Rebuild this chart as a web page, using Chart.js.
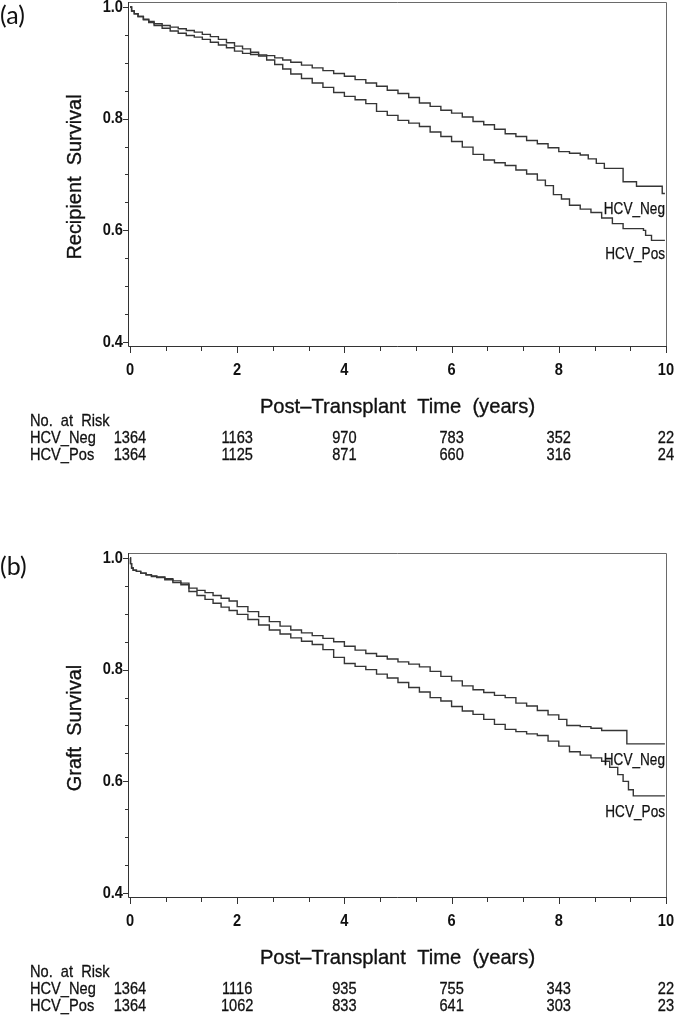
<!DOCTYPE html>
<html><head><meta charset="utf-8">
<script src="https://cdn.jsdelivr.net/npm/chart.js@4.4.0/dist/chart.umd.min.js"></script>
<style>
html,body{margin:0;padding:0;background:#fff;overflow:hidden;width:675px;height:1020px;}
.panel{position:absolute;left:0;width:675px;height:469px;}
#pa{top:0}#pb{top:551px}
</style></head><body>
<div class="panel" id="pa"><canvas id="ca" width="675" height="469"></canvas></div>
<div class="panel" id="pb"><canvas id="cb" width="675" height="469"></canvas></div>
<script>
const xTickLabels=[0,2,4,6,8,10];
const yTickLabels=[0.4,0.6,0.8,1.0];
const riskTimes=[0,2,4,6,8,10];
const riskA_Neg=[1364,1163,970,783,352,22];
const riskA_Pos=[1364,1125,871,660,316,24];
const riskB_Neg=[1364,1116,935,755,343,22];
const riskB_Pos=[1364,1062,833,641,303,23];

const timeA_Neg=[0,0.03,0.08,0.15,0.25,0.35,0.45,0.6,0.75,0.9,1.05,1.2,1.35,1.5,1.65,1.8,1.95,2.1,2.25,2.4,2.55,2.7,2.85,3.0,3.2,3.4,3.6,3.8,4.0,4.2,4.4,4.6,4.8,5.0,5.2,5.4,5.6,5.8,6.0,6.2,6.4,6.6,6.8,7.0,7.2,7.4,7.6,7.8,8.0,8.2,8.4,8.55,8.7,8.85,9.2,9.45,9.93,9.98];
const survA_Neg=[1.0,0.993,0.988,0.983,0.977,0.972,0.967,0.962,0.957,0.953,0.949,0.946,0.942,0.937,0.932,0.927,0.921,0.917,0.915,0.914,0.913,0.909,0.905,0.901,0.896,0.891,0.886,0.881,0.876,0.870,0.864,0.858,0.851,0.845,0.838,0.828,0.822,0.815,0.810,0.803,0.795,0.789,0.781,0.773,0.768,0.761,0.755,0.748,0.741,0.738,0.735,0.728,0.720,0.711,0.687,0.679,0.666,0.666];
const timeA_Pos=[0,0.03,0.08,0.15,0.25,0.35,0.45,0.6,0.75,0.9,1.05,1.2,1.35,1.5,1.65,1.8,1.95,2.1,2.25,2.4,2.55,2.7,2.85,3.0,3.2,3.4,3.6,3.8,4.0,4.2,4.4,4.6,4.8,5.0,5.2,5.4,5.6,5.8,6.0,6.2,6.4,6.6,6.8,7.0,7.2,7.4,7.6,7.75,7.9,8.05,8.2,8.4,8.6,8.8,9.0,9.2,9.58,9.62,9.73,9.98];
const survA_Pos=[1.0,0.993,0.988,0.983,0.978,0.974,0.970,0.967,0.964,0.961,0.958,0.955,0.951,0.947,0.942,0.936,0.930,0.925,0.919,0.912,0.905,0.897,0.889,0.880,0.872,0.864,0.856,0.847,0.840,0.834,0.827,0.813,0.806,0.797,0.792,0.786,0.776,0.768,0.759,0.749,0.736,0.726,0.721,0.716,0.708,0.701,0.690,0.680,0.664,0.656,0.645,0.638,0.632,0.622,0.612,0.603,0.600,0.591,0.582,0.582];

const timeB_Neg=[0,0.01,0.03,0.06,0.12,0.2,0.3,0.4,0.5,0.65,0.8,0.95,1.1,1.25,1.4,1.55,1.7,1.85,2.0,2.2,2.4,2.6,2.8,3.0,3.2,3.4,3.6,3.8,4.0,4.2,4.4,4.6,4.8,5.0,5.2,5.4,5.6,5.8,6.0,6.2,6.4,6.6,6.8,7.0,7.2,7.4,7.6,7.8,8.0,8.15,8.4,8.6,8.8,9.27,9.98];
const survB_Neg=[1.0,0.99,0.982,0.978,0.976,0.973,0.970,0.967,0.965,0.961,0.956,0.952,0.946,0.942,0.938,0.933,0.928,0.923,0.913,0.904,0.895,0.886,0.878,0.871,0.866,0.861,0.856,0.850,0.842,0.835,0.829,0.824,0.819,0.814,0.810,0.805,0.797,0.788,0.780,0.771,0.764,0.759,0.754,0.750,0.740,0.735,0.727,0.719,0.711,0.700,0.698,0.695,0.691,0.667,0.667];
const timeB_Pos=[0,0.01,0.03,0.06,0.12,0.2,0.3,0.4,0.5,0.65,0.8,0.95,1.1,1.25,1.4,1.55,1.7,1.85,2.0,2.2,2.4,2.6,2.8,3.0,3.2,3.4,3.6,3.8,4.0,4.2,4.4,4.6,4.8,5.0,5.2,5.4,5.6,5.8,6.0,6.2,6.4,6.6,6.8,7.0,7.2,7.4,7.6,7.8,8.0,8.2,8.4,8.6,8.8,8.95,9.1,9.2,9.3,9.39,9.98];
const survB_Pos=[1.0,0.99,0.982,0.978,0.976,0.973,0.970,0.968,0.966,0.963,0.959,0.955,0.940,0.933,0.926,0.919,0.912,0.906,0.899,0.890,0.880,0.871,0.864,0.857,0.851,0.845,0.836,0.822,0.811,0.806,0.800,0.792,0.785,0.777,0.768,0.760,0.750,0.744,0.734,0.726,0.720,0.711,0.702,0.693,0.689,0.685,0.682,0.672,0.663,0.653,0.647,0.642,0.636,0.625,0.612,0.600,0.585,0.574,0.574];

const seriesNames=['HCV_Neg','HCV_Pos'];
const SANS='"Liberation Sans", Arial, sans-serif';

function txt(ctx,s,x,y,align,font,sx,heavy){
  ctx.save();ctx.translate(x,y);ctx.scale(sx||1,1);
  ctx.font=font;ctx.textAlign=align;ctx.textBaseline='middle';ctx.fillStyle='#111';
  ctx.fillText(s,0,0);
  if(heavy){ctx.strokeStyle='#111';ctx.lineWidth=heavy;ctx.strokeText(s,0,0);}
  ctx.restore();
}

function makeChart(id,letter,yTitle,tNeg,sNeg,tPos,sPos,rNeg,rPos,labNegY,labPosY){
  const deco={
    id:'deco'+letter,
    afterDraw(chart){
      const ctx=chart.ctx,a=chart.chartArea,xs=chart.scales.x,ys=chart.scales.y;
      ctx.save();
      ctx.lineWidth=1;
      ctx.strokeStyle='#6a6a6a';
      ctx.beginPath();
      ctx.moveTo(a.left,a.top+0.5);ctx.lineTo(a.right-0.5,a.top+0.5);ctx.lineTo(a.right-0.5,a.bottom);
      ctx.stroke();
      ctx.strokeStyle='#333';
      ctx.beginPath();
      ctx.moveTo(a.left+0.5,a.top);ctx.lineTo(a.left+0.5,a.bottom-0.5);ctx.lineTo(a.right,a.bottom-0.5);
      ctx.stroke();
      ctx.beginPath();
      for(let k=0;k<=15;k++){
        const px=Math.round(xs.getPixelForValue(k*2/3))+0.5;
        const len=(k%3===0)?6:4;
        ctx.moveTo(px,a.bottom);ctx.lineTo(px,a.bottom+len);
      }
      for(let k=0;k<=12;k++){
        const py=Math.round(ys.getPixelForValue(0.4+k*0.05))+0.5;
        const len=(k%4===0)?5:3;
        ctx.moveTo(a.left-len,py);ctx.lineTo(a.left,py);
      }
      ctx.stroke();
      // tick labels from the library's scales
      const tf='bold 17px '+SANS;
      xs.ticks.forEach(t=>{txt(ctx,String(t.value),xs.getPixelForValue(t.value),a.bottom+23,'center',tf,0.86);});
      ys.ticks.forEach(t=>{txt(ctx,t.value.toFixed(1),a.left-5,ys.getPixelForValue(t.value),'right',tf,0.86);});
      // panel letter
      txt(ctx,'('+letter+')',0,16,'left','25px Lato, "Open Sans", sans-serif',1);
      // y title
      ctx.save();ctx.translate(75,177);ctx.rotate(-Math.PI/2);
      txt(ctx,yTitle,0,0,'center','21px '+SANS,0.95,0.35);
      ctx.restore();
      // x title
      txt(ctx,'Post\u2013Transplant  Time  (years)',(a.left+a.right)/2,407,'center','21px '+SANS,0.96,0.35);
      // curve labels
      txt(ctx,seriesNames[0],665,labNegY,'right','16px '+SANS,0.85,0.25);
      txt(ctx,seriesNames[1],665,labPosY,'right','16px '+SANS,0.85,0.25);
      // risk table
      const f='17px '+SANS;
      txt(ctx,'No.  at  Risk',30,421,'left',f,0.86,0.3);
      txt(ctx,seriesNames[0],30,438,'left',f,0.86,0.3);
      txt(ctx,seriesNames[1],30,455,'left',f,0.86,0.3);
      riskTimes.forEach((t,i)=>{
        const px=xs.getPixelForValue(t);
        txt(ctx,String(rNeg[i]),px,438,'center',f,0.86,0.3);
        txt(ctx,String(rPos[i]),px,455,'center',f,0.86,0.3);
      });
      ctx.restore();
    }
  };
  const mk=(t,s)=>t.map((v,i)=>({x:v,y:s[i]}));
  return new Chart(document.getElementById(id),{
    type:'line',
    data:{datasets:[
      {label:seriesNames[0],data:mk(tNeg,sNeg),stepped:true,borderColor:'#353535',borderWidth:1.4,pointRadius:0,fill:false},
      {label:seriesNames[1],data:mk(tPos,sPos),stepped:true,borderColor:'#353535',borderWidth:1.4,pointRadius:0,fill:false}
    ]},
    options:{
      responsive:false,animation:false,devicePixelRatio:1,
      layout:{padding:{top:2,right:8,left:0,bottom:0}},
      plugins:{legend:{display:false},tooltip:{enabled:false}},
      scales:{
        x:{type:'linear',min:-0.037,max:10.019,
          grid:{display:false,drawTicks:false},border:{display:false},
          afterBuildTicks:(sc)=>{sc.ticks=xTickLabels.map(v=>({value:v}));},
          afterFit:(sc)=>{sc.height=122;},
          ticks:{display:false}
        },
        y:{type:'linear',min:0.391,max:1.009,
          grid:{display:false,drawTicks:false},border:{display:false},
          afterBuildTicks:(sc)=>{sc.ticks=yTickLabels.map(v=>({value:v}));},
          afterFit:(sc)=>{sc.width=128;},
          ticks:{display:false}
        }
      }
    },
    plugins:[deco]
  });
}

makeChart('ca','a','Recipient  Survival',timeA_Neg,survA_Neg,timeA_Pos,survA_Pos,riskA_Neg,riskA_Pos,210,255);
makeChart('cb','b','Graft  Survival',timeB_Neg,survB_Neg,timeB_Pos,survB_Pos,riskB_Neg,riskB_Pos,210,262);
</script>
</body></html>
